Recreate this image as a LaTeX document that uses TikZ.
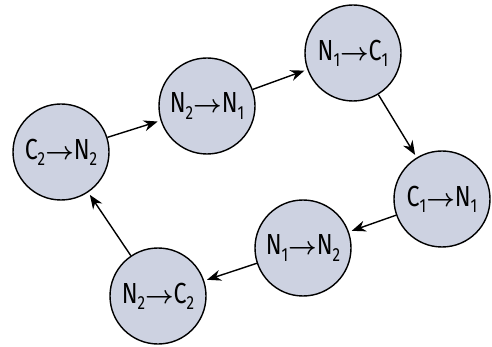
\documentclass[tikz,border=0pt]{standalone}
\usepackage{fontspec}
\setmainfont{Fira Sans}[FakeStretch=0.8]
\usetikzlibrary{arrows.meta}
\definecolor{cellfill}{RGB}{205,210,225}
\tikzstyle{st}=[shape=circle, minimum size=96pt, inner sep=0, draw=black, line width=1.4pt, fill=cellfill, font=\fontsize{29}{30}\selectfont]
\tikzstyle{tr}=[-{Stealth[length=14pt,width=11pt]}, line width=1.4pt, shorten >=3pt]
\newcommand{\lo}[1]{\raisebox{-0.4ex}{\fontsize{19}{19}\selectfont #1}}
\newcommand{\ra}{{\boldmath$\rightarrow$}}

\begin{document}
\begin{tikzpicture}[x=1pt,y=-1pt]
\useasboundingbox (0,0) rectangle (492,347);
\draw (61,152) node[st](s1) {C\lo{2}\ra N\lo{2}};
\draw (207,106) node[st](s2) {N\lo{2}\ra N\lo{1}};
\draw (353,53) node[st](s3) {N\lo{1}\ra C\lo{1}};
\draw (442,199) node[st](s4) {C\lo{1}\ra N\lo{1}};
\draw (303,248) node[st](s5) {N\lo{1}\ra N\lo{2}};
\draw (158,296) node[st](s6) {N\lo{2}\ra C\lo{2}};
\foreach \a/\b in {s1/s2,s2/s3,s3/s4,s4/s5,s5/s6,s6/s1}
	\draw[tr] (\a)--(\b);
\end{tikzpicture}
\end{document}
